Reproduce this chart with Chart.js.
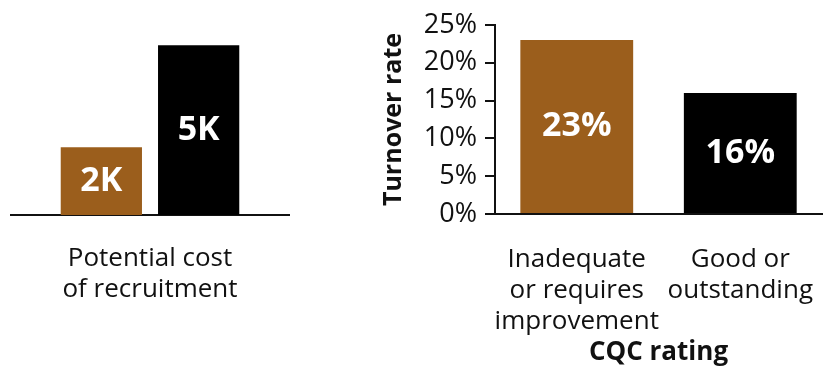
<!DOCTYPE html>
<html>
<head>
<meta charset="utf-8">
<script src="https://cdn.jsdelivr.net/npm/chart.js@4.4.1/dist/chart.umd.min.js"></script>
<style>
  html, body { margin: 0; padding: 0; background: #fff; }
  #wrap { position: relative; width: 837px; height: 368px; }
  #costBox { position: absolute; left: 0; top: 0; width: 300px; height: 368px; }
  #rateBox { position: absolute; left: 370px; top: 0; width: 467px; height: 368px; }
</style>
</head>
<body>
<div id="wrap">
  <div id="costBox"><canvas id="costChart"></canvas></div>
  <div id="rateBox"><canvas id="rateChart"></canvas></div>
</div>
<script>
// Recruitment cost (thousands) and staff turnover by CQC rating
const costCategories = [["Potential cost", "of recruitment"]];
const costPoorRating = [2];
const costGoodRating = [5];

const ratingCategories = [
  ["Inadequate", "or requires", "improvement"],
  ["Good or", "outstanding"],
];
const turnoverRates = [23, 16];
const turnoverTicks = [0, 5, 10, 15, 20, 25];

const BROWN = "#9b5e1c";
const BLACK = "#000000";
const INK = "#111111";
const FONT = "'Open Sans', Lato, sans-serif";

Chart.defaults.font.family = FONT;
Chart.defaults.color = INK;
Chart.defaults.animation = false;

// White value text in the middle of every bar
function barLabels(format) {
  return {
    id: "barLabels",
    afterDatasetsDraw(chart) {
      const ctx = chart.ctx;
      ctx.save();
      ctx.font = "bold 34px " + FONT;
      ctx.fillStyle = "#fff";
      ctx.textAlign = "center";
      ctx.textBaseline = "middle";
      chart.data.datasets.forEach((ds, i) => {
        chart.getDatasetMeta(i).data.forEach((bar, j) => {
          ctx.fillText(format(ds.data[j]), bar.x, (bar.y + bar.base) / 2);
        });
      });
      ctx.restore();
    },
  };
}

new Chart(document.getElementById("costChart"), {
  type: "bar",
  data: {
    labels: costCategories,
    datasets: [
      { label: "Inadequate or requires improvement", data: costPoorRating, backgroundColor: BROWN },
      { label: "Good or outstanding", data: costGoodRating, backgroundColor: BLACK },
    ],
  },
  options: {
    responsive: true,
    maintainAspectRatio: false,
    layout: { padding: { top: 25, left: 11, right: 11, bottom: 0 } },
    datasets: { bar: { categoryPercentage: 0.7, barPercentage: 0.835 } },
    plugins: { legend: { display: false }, tooltip: { enabled: false } },
    scales: {
      x: {
        grid: { display: false },
        border: { display: true, color: INK, width: 2 },
        ticks: { font: { size: 26, lineHeight: 1.2 }, color: INK, padding: 20, maxRotation: 0, autoSkip: false },
        afterFit: (scale) => { scale.height = 153; },
      },
      y: { display: false, min: 0, max: 5.6 },
    },
  },
  plugins: [barLabels((v) => v + "K")],
});

new Chart(document.getElementById("rateChart"), {
  type: "bar",
  data: {
    labels: ratingCategories,
    datasets: [
      { label: "Turnover rate", data: turnoverRates, backgroundColor: [BROWN, BLACK] },
    ],
  },
  options: {
    responsive: true,
    maintainAspectRatio: false,
    layout: { padding: { top: 25, left: 0, right: 8, bottom: 0 } },
    datasets: { bar: { categoryPercentage: 1, barPercentage: 0.69 } },
    plugins: { legend: { display: false }, tooltip: { enabled: false } },
    scales: {
      x: {
        grid: { display: false },
        border: { display: true, color: INK, width: 2 },
        ticks: { font: { size: 26, lineHeight: 1.2 }, color: INK, padding: 22, maxRotation: 0, autoSkip: false },
        title: {
          display: true,
          text: "CQC rating",
          font: { size: 26, weight: "bold" },
          color: INK,
          padding: { top: 0, bottom: 0 },
        },
        afterFit: (scale) => { scale.height = 154; },
      },
      y: {
        min: 0,
        max: 25,
        afterBuildTicks: (scale) => { scale.ticks = turnoverTicks.map((v) => ({ value: v })); },
        grid: { drawOnChartArea: false, drawTicks: true, tickLength: 10, color: INK, lineWidth: 2 },
        border: { display: true, color: INK, width: 2 },
        ticks: { font: { size: 27 }, color: INK, padding: 8, callback: (v) => v + "%" },
        title: {
          display: true,
          text: "Turnover rate",
          font: { size: 25, weight: "bold" },
          color: INK,
          padding: { top: 9, bottom: 0 },
        },
        afterFit: (scale) => { scale.width = 125; },
      },
    },
  },
  plugins: [barLabels((v) => v + "%")],
});
</script>
</body>
</html>
